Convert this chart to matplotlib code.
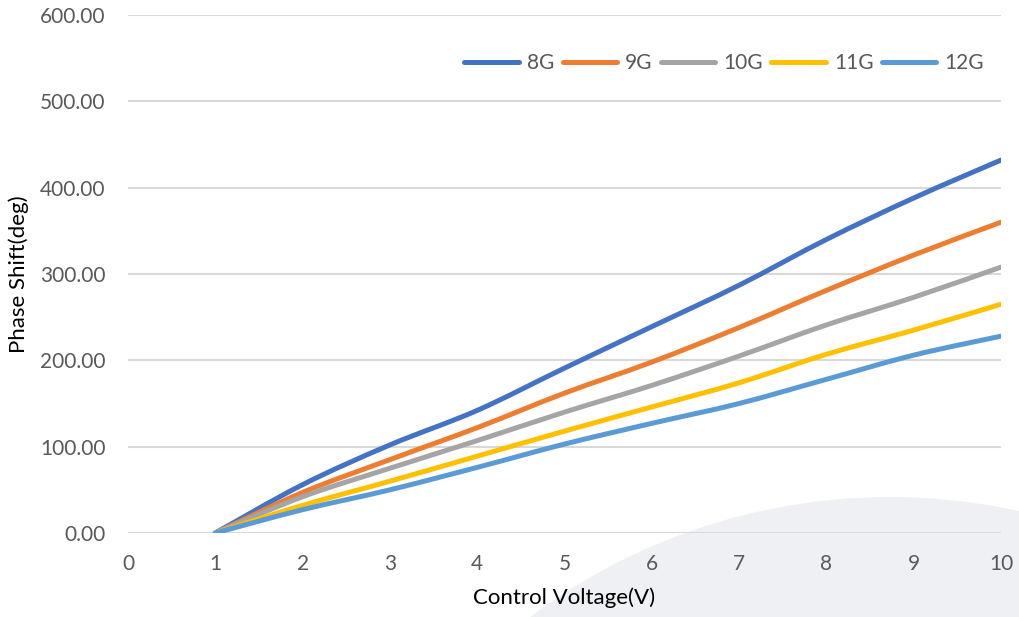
import matplotlib
matplotlib.use('Agg')
import matplotlib.pyplot as plt
from matplotlib.path import Path
from matplotlib.patches import PathPatch, Ellipse
from matplotlib.lines import Line2D

plt.rcParams['font.family'] = ['Lato', 'DejaVu Sans']

voltage = [1, 2, 3, 4, 5, 6, 7, 8, 9, 10]
series_names = ['8G', '9G', '10G', '11G', '12G']
phase_8g = [0, 56, 102, 142, 191, 239, 287, 340, 388, 432]
phase_9g = [0, 47, 85, 122, 162, 198, 238, 281, 322, 360]
phase_10g = [0, 42, 75, 107, 140, 171, 205, 241, 273, 308]
phase_11g = [0, 32, 60, 89, 118, 146, 174, 207, 235, 265]
phase_12g = [0, 27, 50, 76, 103, 127, 150, 178, 206, 228]
y_ticks = [0, 100, 200, 300, 400, 500, 600]
x_ticks = [0, 1, 2, 3, 4, 5, 6, 7, 8, 9, 10]

colors = ['#4472C4', '#ED7D31', '#A5A5A5', '#FFC000', '#5B9BD5']
all_series = [phase_8g, phase_9g, phase_10g, phase_11g, phase_12g]


def smooth_path(xs, ys):
    # excel-style smoothed line: bezier segments through every point
    pts = list(zip(xs, ys))
    verts = [pts[0]]
    codes = [Path.MOVETO]
    n = len(pts)
    for i in range(n - 1):
        p0 = pts[i - 1] if i > 0 else pts[i]
        p1 = pts[i]
        p2 = pts[i + 1]
        p3 = pts[i + 2] if i + 2 < n else pts[i + 1]
        c1 = (p1[0] + (p2[0] - p0[0]) / 6, p1[1] + (p2[1] - p0[1]) / 6)
        c2 = (p2[0] - (p3[0] - p1[0]) / 6, p2[1] - (p3[1] - p1[1]) / 6)
        verts += [c1, c2, p2]
        codes += [Path.CURVE4] * 3
    return Path(verts, codes)


fig = plt.figure(figsize=(10.19, 6.17), dpi=100)
fig.patch.set_facecolor('white')

# light background shape in the lower right
bg = Ellipse((890 / 1019, 1 - 1097 / 617), 1200 / 1019, 1200 / 617,
             transform=fig.transFigure, facecolor='#EEF0F4', edgecolor='none', zorder=-5)
fig.patches.append(bg)

ax = fig.add_axes([128 / 1019, 1 - 533 / 617, 873 / 1019, 518 / 617])
ax.patch.set_alpha(0)
ax.set_zorder(1)

for vals, col in zip(all_series, colors):
    patch = PathPatch(smooth_path(voltage, vals), facecolor='none', edgecolor=col,
                      linewidth=3.6, capstyle='round', joinstyle='round', zorder=3)
    ax.add_patch(patch)

ax.set_xlim(0, 10)
ax.set_ylim(0, 600)
ax.set_xticks(x_ticks)
ax.set_yticks(y_ticks)
ax.set_yticklabels(['%.2f' % v for v in y_ticks])
ax.yaxis.grid(True, color='#D9D9D9', linewidth=1.5)
ax.set_axisbelow(True)
for s in ax.spines.values():
    s.set_visible(False)
ax.tick_params(axis='both', length=0, labelsize=15, labelcolor='#595959')
ax.tick_params(axis='x', pad=15)
ax.tick_params(axis='y', pad=16)

ax.set_xlabel('Control Voltage(V)', fontsize=16, color='black', labelpad=10)
ax.set_ylabel('Phase Shift(deg)', fontsize=16, color='black', labelpad=8)

handles = [Line2D([], [], color=c, linewidth=3.6, solid_capstyle='round') for c in colors]
ax.legend(handles, series_names, loc='center', bbox_to_anchor=(0.683, 0.907), ncol=5,
          frameon=False, fontsize=15, handlelength=2.6, handletextpad=0.4,
          columnspacing=0.4, labelcolor='#595959')

fig.savefig('out.png', dpi=100)
plt.close(fig)
